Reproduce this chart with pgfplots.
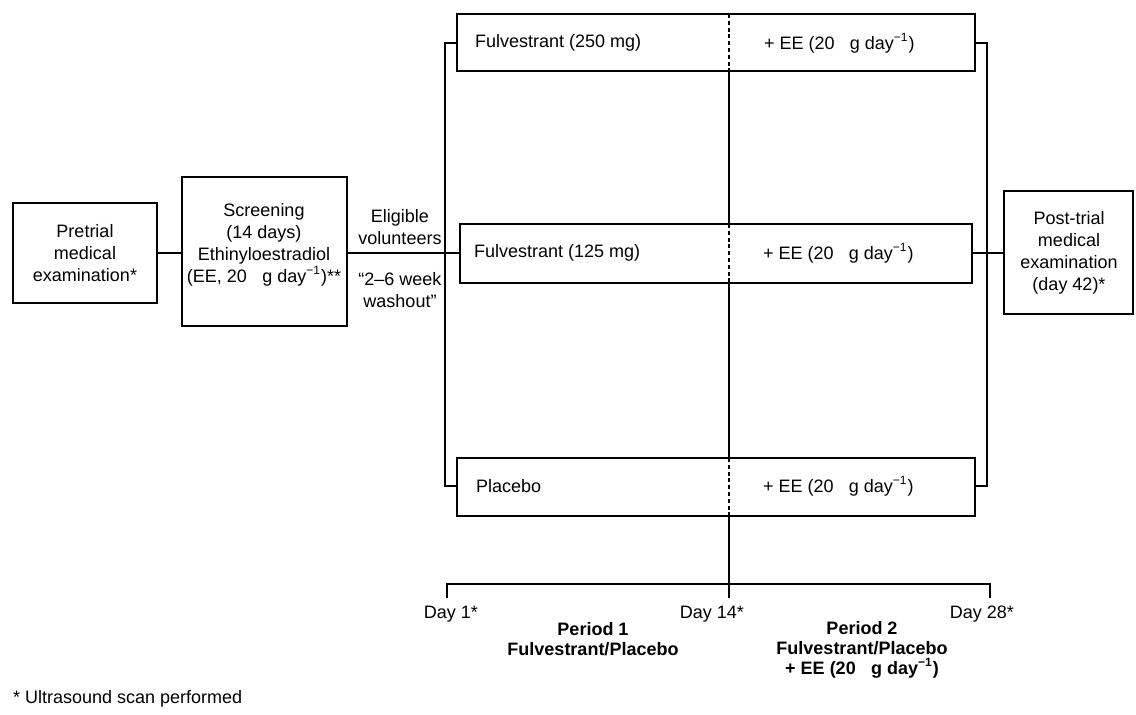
\documentclass[border=0pt]{standalone}
\usepackage{fontspec}
\setmainfont{Liberation Sans}
\usepackage{pgfplots}
\pgfplotsset{compat=1.18}

% 1 px of the reference = 0.5pt
\newcommand{\ee}{+ EE (20\hspace{0.85em}g day\textsuperscript{−1})}

\begin{document}
\begin{tikzpicture}[font=\fontsize{9}{10.9}\selectfont]
  \begin{axis}[
    hide axis,
    scale only axis,
    width=568pt, height=352.5pt,
    xmin=0, xmax=1136,
    ymin=0, ymax=705,
    y dir=reverse,
    clip=false,
    box/.style={black, line width=1.2pt, line cap=rect, line join=miter, mark=none},
    conn/.style={black, line width=0.9pt, mark=none},
    dash/.style={black, line width=0.8pt, mark=none, dash pattern=on 2pt off 1.4pt},
  ]
    % keep the whole frame in the bounding box
    \path (axis cs:0,0) rectangle (axis cs:1136,705);

    % boxes
    \addplot[box] coordinates {(13,203) (157,203) (157,303) (13,303) (13,203)};
    \addplot[box] coordinates {(182,177) (347,177) (347,326) (182,326) (182,177)};
    \addplot[box] coordinates {(457,14) (975,14) (975,71) (457,71) (457,14)};
    \addplot[box] coordinates {(460,224) (972,224) (972,283) (460,283) (460,224)};
    \addplot[box] coordinates {(457,458) (975,458) (975,516) (457,516) (457,458)};
    \addplot[box] coordinates {(1004,191) (1133,191) (1133,314) (1004,314) (1004,191)};

    % connectors
    \addplot[conn] coordinates {(157,253) (182,253)};
    \addplot[conn] coordinates {(347,253) (460,253)};
    \addplot[conn] coordinates {(457,43) (445,43) (445,486) (457,486)};
    \addplot[conn] coordinates {(975,43) (987,43) (987,486) (975,486)};
    \addplot[conn] coordinates {(972,253) (1004,253)};

    % day-14 divider
    \addplot[conn] coordinates {(729,71) (729,224)};
    \addplot[conn] coordinates {(729,283) (729,458)};
    \addplot[conn] coordinates {(729,516) (729,598)};
    \addplot[dash] coordinates {(729,14) (729,71)};
    \addplot[dash] coordinates {(729,224) (729,283)};
    \addplot[dash] coordinates {(729,458) (729,516)};

    % timeline
    \addplot[conn] coordinates {(447,598) (447,584) (990,584) (990,598)};

    % texts
    \node[align=center] at (axis cs:85,253) {Pretrial\\medical\\examination*};
    \node[align=center] at (axis cs:264,245) {Screening\\(14 days)\\Ethinyloestradiol\\(EE, 20\hspace{0.85em}g day\textsuperscript{−1})**};
    \node[align=center] at (axis cs:400,227) {Eligible\\volunteers};
    \node[align=center] at (axis cs:400,290) {“2–6 week\\washout”};

    \node[anchor=west] at (axis cs:468,43) {Fulvestrant (250 mg)};
    \node[anchor=west] at (axis cs:757,43) {\ee};
    \node[anchor=west] at (axis cs:467,253) {Fulvestrant (125 mg)};
    \node[anchor=west] at (axis cs:756,253) {\ee};
    \node[anchor=west] at (axis cs:469,486) {Placebo};
    \node[anchor=west] at (axis cs:756,486) {\ee};

    \node[align=center] at (axis cs:1069,253) {Post-trial\\medical\\examination\\(day 42)*};

    \node at (axis cs:451,614) {Day 1*};
    \node at (axis cs:712,614) {Day 14*};
    \node at (axis cs:982,614) {Day 28*};
    \node[align=center, font=\fontsize{9}{10}\selectfont\bfseries] at (axis cs:593,639) {Period 1\\Fulvestrant/Placebo};
    \node[align=center, font=\fontsize{9}{10}\selectfont\bfseries] at (axis cs:862,650) {Period 2\\Fulvestrant/Placebo\\\ee};

    \node[anchor=west] at (axis cs:6,699) {* Ultrasound scan performed};
  \end{axis}
\end{tikzpicture}
\end{document}
